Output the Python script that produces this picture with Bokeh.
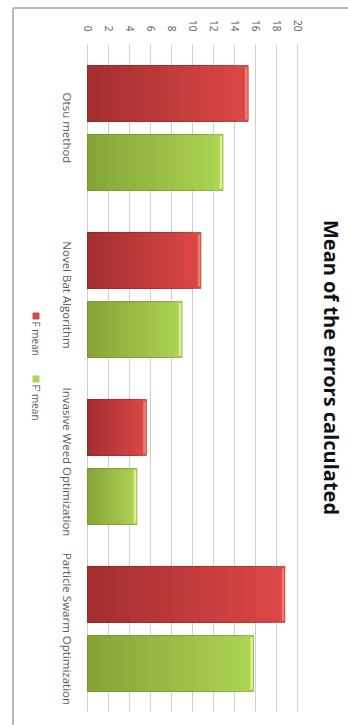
import math
import numpy as np
from bokeh.plotting import figure
from bokeh.models import (ColumnDataSource, FactorRange, Range1d, FixedTicker, Label,
                          InlineStyleSheet)
from bokeh.transform import dodge
from bokeh.core.properties import value
from bokeh.embed import file_html
from bokeh.resources import INLINE

categories = ["Otsu method", "Novel Bat Algorithm", "Invasive Weed Optimization", "Particle Swarm Optimization"]
f_mean = [15.3, 10.8, 5.6, 18.8]
f2_mean = [12.9, 9.0, 4.7, 15.8]
ticks = [0, 2, 4, 6, 8, 10, 12, 14, 16, 18, 20]
series_names = ["F mean", "F\u2019 mean"]
title_text = "Mean of the errors calculated"

FONT = "Open Sans"
LABEL_COLOR = "#595959"
RED = ("#a52f2f", "#db4747", "#f47a70", "#8a2424")
GREEN = ("#86a538", "#acd352", "#dcf288", "#6f8a2c")

W, HGT = 348, 725
FRAME_TOP, FRAME_BOTTOM = 44, 712
X_ZERO, X_MAX = 87, 297          # canvas x of value 0 and of the last tick
ppu = (X_MAX - X_ZERO) / ticks[-1]
x_start = -X_ZERO / ppu
x_end = (W - X_ZERO) / ppu
cat_px = (FRAME_BOTTOM - FRAME_TOP) / len(categories)

def dx(cx):   # canvas x -> data x
    return (cx - X_ZERO) / ppu

def dy(cy):   # canvas y -> categorical synthetic coordinate
    return (FRAME_BOTTOM - cy) / cat_px

def fy(cy):   # canvas y -> frame-relative screen y
    return FRAME_BOTTOM - cy

p = figure(width=W, height=HGT,
           x_range=Range1d(x_start, x_end),
           y_range=FactorRange(factors=list(reversed(categories))),
           x_axis_location="above",
           output_backend="svg", toolbar_location=None,
           min_border_left=0, min_border_right=0,
           min_border_top=FRAME_TOP, min_border_bottom=HGT - FRAME_BOTTOM,
           background_fill_color="white", border_fill_color="white")
p.outline_line_color = None
p.yaxis.visible = False

# chart-area border (top and left edge)
p.stylesheets = [InlineStyleSheet(css="""
:host { position: relative; }
:host::after { content: ""; position: absolute; left: 12px; top: 7px; right: 0px; bottom: 0px;
  border-left: 2px solid #b8b8b8; border-top: 2px solid #b8b8b8;
  border-top-left-radius: 3px; pointer-events: none; box-sizing: border-box; }
""")]

xa = p.xaxis[0]
xa.ticker = FixedTicker(ticks=ticks)
xa.major_label_orientation = -math.pi / 2
xa.axis_line_color = None
xa.major_tick_line_color = None
xa.minor_tick_line_color = None
xa.major_label_text_font = FONT
xa.major_label_text_font_size = "10px"
xa.major_label_text_color = LABEL_COLOR
xa.major_label_standoff = 7

p.xgrid.ticker = FixedTicker(ticks=ticks)
p.xgrid.grid_line_color = "#cfcfcf"
p.ygrid.grid_line_color = None

# bars with a simulated horizontal gradient
N = 14
def lerp(c1, c2, t):
    a = [int(c1[i:i + 2], 16) for i in (1, 3, 5)]
    b = [int(c2[i:i + 2], 16) for i in (1, 3, 5)]
    return "#%02x%02x%02x" % tuple(round(a[j] + (b[j] - a[j]) * t) for j in range(3))

H = 0.335
for vals, off, (c_left, c_right, c_cap, c_edge) in [(f_mean, 0.207, RED), (f2_mean, -0.207, GREEN)]:
    v = np.array(vals, dtype=float)
    for k in reversed(range(N)):
        src = ColumnDataSource(dict(cat=categories, left=np.zeros_like(v), right=v * (k + 1) / N))
        p.hbar(y=dodge("cat", off, range=p.y_range), left="left", right="right", height=H,
               fill_color=lerp(c_left, c_right, k / (N - 1)), line_color=None, source=src)
    cap = ColumnDataSource(dict(cat=categories, left=v - 0.3, right=v))
    p.hbar(y=dodge("cat", off, range=p.y_range), left="left", right="right", height=H - 0.02,
           fill_color=c_cap, line_color=None, source=cap)
    full = ColumnDataSource(dict(cat=categories, left=np.zeros_like(v), right=v))
    p.hbar(y=dodge("cat", off, range=p.y_range), left="left", right="right", height=H,
           fill_color=None, line_color=c_edge, line_alpha=0.6, line_width=1, source=full)

# category labels (rotated, centred on each group)
cat_src = ColumnDataSource(dict(cat=categories, x=[dx(67)] * len(categories)))
p.text(x="x", y="cat", text="cat", source=cat_src, angle=-math.pi / 2,
       text_align="center", text_baseline="middle", text_font=value(FONT),
       text_font_size="11.5px", text_color=LABEL_COLOR)

# legend (rotated)
leg_src = ColumnDataSource(dict(x=[dx(35.5)] * 2, y=[dy(315.5), dy(378.5)],
                                color=[RED[1], GREEN[1]]))
p.scatter(x="x", y="y", marker="square", size=6, fill_color="color", line_color="color",
          source=leg_src)
for name, ty in [(series_names[0], 321), (series_names[1], 384)]:
    p.add_layout(Label(x=35.5, y=fy(ty), x_units="screen", y_units="screen", text=name,
                       angle=-math.pi / 2, text_align="left", text_baseline="middle",
                       text_font=FONT, text_font_size="10px", text_color=LABEL_COLOR))

# title (rotated)
p.add_layout(Label(x=331, y=fy(367), x_units="screen", y_units="screen", text=title_text,
                   angle=-math.pi / 2, text_align="center", text_baseline="middle",
                   text_font=FONT, text_font_style="bold", text_font_size="20px",
                   text_color="#111111"))

open("out.html", "w").write(file_html(p, INLINE))
